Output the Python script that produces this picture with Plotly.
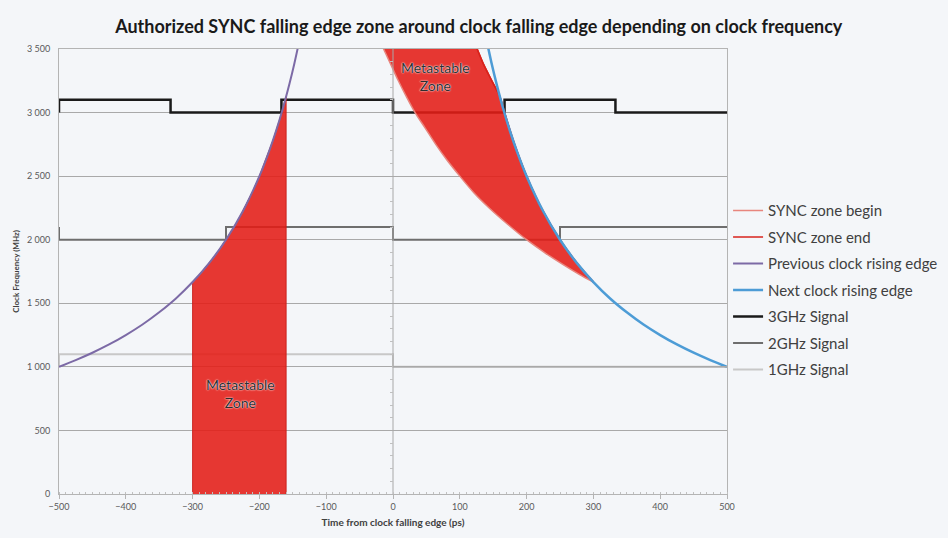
import plotly.graph_objects as go

# clock edges (ps, MHz)
prev_edge_t = [-500, -475, -450, -425, -400, -375, -350, -325, -300, -275, -250,
               -225, -200, -185, -175, -165, -155, -148, -140]
prev_edge_f = [1000, 1053, 1111, 1176, 1250, 1333, 1429, 1538, 1667, 1818, 2000,
               2222, 2500, 2703, 2857, 3030, 3226, 3378, 3571]
next_edge_t = [500, 475, 450, 425, 400, 375, 350, 325, 300, 275, 250,
               225, 200, 185, 175, 165, 155, 148, 140]
next_edge_f = [1000, 1053, 1111, 1176, 1250, 1333, 1429, 1538, 1667, 1818, 2000,
               2222, 2500, 2703, 2857, 3030, 3226, 3378, 3571]

# SYNC zone after clock falling edge
sync_begin_t = [300, 278, 256, 228, 200, 172, 144, 121, 100, 81, 64, 48, 33, 20, 8, -3, -14, -22]
sync_begin_f = [1667, 1730, 1800, 1895, 2000, 2120, 2250, 2370, 2500, 2625, 2750, 2880,
                3000, 3125, 3250, 3375, 3500, 3600]
sync_end_t = [300, 278, 264, 250, 222, 200, 182, 167, 160, 148, 136, 126, 118]
sync_end_f = [1667, 1800, 1895, 2000, 2250, 2500, 2750, 3000, 3125, 3250, 3375, 3500, 3600]

# SYNC zone before clock falling edge (under previous rising edge)
sync_left_t = [-300, -290, -280, -270, -260, -250, -240, -230, -220, -210, -200,
               -190, -180, -170, -160]
sync_left_f = [1667, 1724, 1786, 1852, 1923, 2000, 2083, 2174, 2273, 2381, 2500,
               2632, 2778, 2941, 3125]

# square waves, falling edge at t = 0
sig3_t = [-500, -500, -333, -333, -167, -167, 0, 0, 167, 167, 333, 333, 500]
sig3_f = [3000, 3100, 3100, 3000, 3000, 3100, 3100, 3000, 3000, 3100, 3100, 3000, 3000]
sig2_t = [-500, -500, -250, -250, 0, 0, 250, 250, 500]
sig2_f = [2100, 2000, 2000, 2100, 2100, 2000, 2000, 2100, 2100]
sig1_t = [-500, -500, 0, 0, 500]
sig1_f = [1000, 1100, 1100, 1000, 1000]

BG = '#f4f6f9'
GRID = '#a9a9a9'
RED_FILL = 'rgba(228,28,22,0.88)'
FONT = 'Lato'

fig = go.Figure()

#####################################################################
# SIGNALS
#####################################################################
fig.add_trace(go.Scatter(x=sig3_t, y=sig3_f, mode='lines', name='3GHz Signal',
                         legendrank=5, legendgroup='g5',
                         line=dict(color='#1a1a1a', width=2.5)))
fig.add_trace(go.Scatter(x=sig2_t, y=sig2_f, mode='lines', name='2GHz Signal',
                         legendrank=6, legendgroup='g6',
                         line=dict(color='#6e6e6e', width=2)))
fig.add_trace(go.Scatter(x=sig1_t, y=sig1_f, mode='lines', name='1GHz Signal',
                         legendrank=7, legendgroup='g7',
                         line=dict(color='#c8c8c8', width=2)))

#####################################################################
# SYNC ZONES
#####################################################################
fig.add_trace(go.Scatter(x=[-300] + sync_left_t + [-160],
                         y=[0] + sync_left_f + [0],
                         mode='lines', fill='toself', fillcolor=RED_FILL,
                         line=dict(color='rgba(200,30,25,0.9)', width=1),
                         showlegend=False, hoverinfo='skip'))
fig.add_trace(go.Scatter(x=sync_begin_t, y=sync_begin_f, mode='lines',
                         name='SYNC zone begin', legendrank=1, legendgroup='g1',
                         line=dict(color='#e8867e', width=1.5, shape='spline')))
fig.add_trace(go.Scatter(x=sync_end_t, y=sync_end_f, mode='lines',
                         fill='tonexty', fillcolor=RED_FILL, showlegend=False,
                         hoverinfo='skip', legendgroup='g2',
                         line=dict(color='#d9231c', width=1.5, shape='spline')))
fig.add_trace(go.Scatter(x=sync_end_t, y=sync_end_f, mode='lines',
                         name='SYNC zone end', legendrank=2, legendgroup='g2',
                         line=dict(color='#d9231c', width=1.5, shape='spline')))

#####################################################################
# CLOCK EDGES
#####################################################################
fig.add_trace(go.Scatter(x=prev_edge_t, y=prev_edge_f, mode='lines',
                         name='Previous clock rising edge', legendrank=3, legendgroup='g3',
                         line=dict(color='#7c6aa6', width=2, shape='spline')))
fig.add_trace(go.Scatter(x=next_edge_t, y=next_edge_f, mode='lines',
                         name='Next clock rising edge', legendrank=4, legendgroup='g4',
                         line=dict(color='#4d9cd6', width=2.5, shape='spline')))

# vertical axis crossing at t = 0
fig.add_trace(go.Scatter(x=[0, 0], y=[0, 3500], mode='lines', yaxis='y2',
                         line=dict(color='#a8a8a8', width=1),
                         showlegend=False, hoverinfo='skip'))

# gridline at 1000 sits over the 1GHz signal in the original
fig.add_shape(type='line', x0=0, x1=500, y0=1000, y1=1000, layer='above',
              line=dict(color=GRID, width=1.5))

label_font = dict(family=FONT, size=14, color='#2e2e2e',
                  shadow='0px 0px 2px white, 0px 0px 1px white')
fig.add_annotation(x=-229, y=790, text='Metastable<br>Zone', showarrow=False,
                   font=label_font)
fig.add_annotation(x=64, y=3280, text='Metastable<br>Zone', showarrow=False,
                   font=label_font)

fig.update_layout(
    width=948, height=538,
    margin=dict(l=59, r=221, t=49, b=44),
    paper_bgcolor=BG, plot_bgcolor=BG,
    separators='. ',
    font=dict(family=FONT, color='#595959'),
    title=dict(text='<b>Authorized SYNC falling edge zone around clock falling edge depending on clock frequency</b>',
               x=0.505, xanchor='center', y=0.95, yanchor='middle',
               font=dict(family=FONT, size=18, color='#1a1a1a')),
    showlegend=True,
    legend=dict(xref='container', yref='container', x=0.768, y=0.639,
                xanchor='left', yanchor='top',
                bgcolor='rgba(0,0,0,0)', traceorder='grouped', tracegroupgap=4,
                font=dict(family=FONT, size=15, color='#404040')),
    xaxis=dict(range=[-500, 500], dtick=100, showgrid=False, zeroline=False,
               automargin=False,
               showline=True, mirror=True, linecolor='#b4b4b4', linewidth=1,
               ticks='outside', ticklen=4, tickcolor='#b4b4b4',
               minor=dict(dtick=10, ticks='inside', ticklen=2, tickcolor='#c0c0c0'),
               tickfont=dict(family=FONT, size=9, color='#595959'),
               title=dict(text='<b>Time from clock falling edge (ps)</b>', standoff=8,
                          font=dict(family=FONT, size=10, color='#404040'))),
    yaxis=dict(range=[0, 3500], dtick=500, tickformat=',d', automargin=False,
               showgrid=True, gridcolor=GRID, gridwidth=1, zeroline=False,
               showline=True, mirror=True, linecolor='#b4b4b4', linewidth=1,
               ticks='', ticklabelstandoff=6,
               tickfont=dict(family=FONT, size=9, color='#595959'),
               title=dict(text='<b>Clock Frequency (MHz)</b>', standoff=6,
                          font=dict(family=FONT, size=8, color='#404040'))),
    yaxis2=dict(range=[0, 3500], overlaying='y', anchor='free', position=0.5,
                automargin=False,
                showgrid=False, zeroline=False, showticklabels=False,
                showline=False, ticks='outside', ticklen=0,
                minor=dict(dtick=100, ticks='outside', ticklen=3, tickcolor='#c0c0c0')),
)

fig.write_html("out.html", config={'displayModeBar': False},
               post_script="document.body.style.margin='0';")
